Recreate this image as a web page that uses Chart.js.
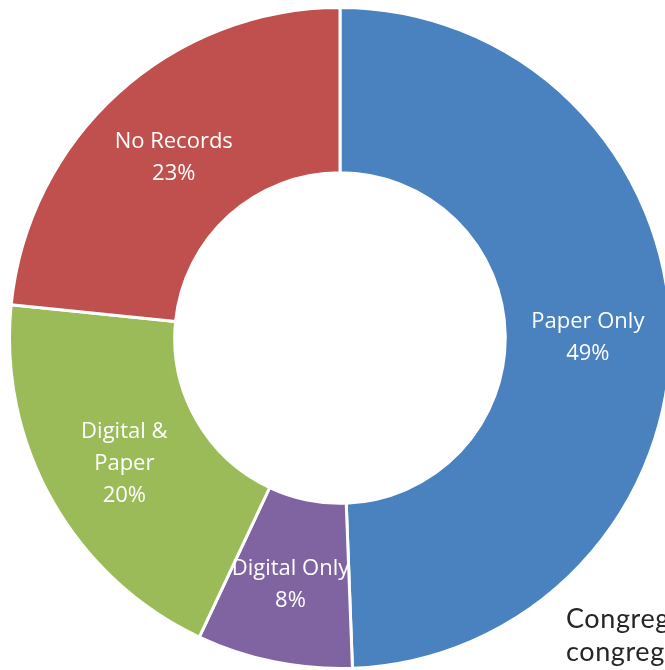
<!DOCTYPE html>
<html>
<head>
<meta charset="utf-8">
<script src="https://cdn.jsdelivr.net/npm/chart.js@4.4.1/dist/chart.umd.min.js"></script>
<style>
    html, body {
        margin: 0;
        padding: 0;
        width: 665px;
        height: 670px;
        overflow: hidden;
        background: #ffffff;
    }
    #wrap {
        position: absolute;
        left: 8px;
        top: 6px;
        width: 664px;
        height: 664px;
    }
    .side-text {
        position: absolute;
        left: 566px;
        font-family: Lato, "Open Sans", sans-serif;
        font-size: 27px;
        letter-spacing: 0.6px;
        color: #262626;
        white-space: nowrap;
        line-height: 34px;
    }
</style>
</head>
<body>
<div id="wrap"><canvas id="records-chart"></canvas></div>
<div class="side-text" style="top:601px">Congregations</div>
<div class="side-text" style="top:634px">congregations</div>

<script>
// Record keeping shares, clockwise from the top
const categories = ['Paper Only', 'Digital Only', 'Digital & Paper', 'No Records'];
const labelLines = [['Paper Only'], ['Digital Only'], ['Digital &', 'Paper'], ['No Records']];
const shares = [49.4, 7.6, 19.6, 23.4];
const sliceColors = ['#4a81bf', '#8064a2', '#9bbb59', '#c0504d'];

// Draws the name and percent in the middle of each ring slice
const sliceLabels = {
    id: 'sliceLabels',
    afterDatasetsDraw(chart) {
        const ctx = chart.ctx;
        const meta = chart.getDatasetMeta(0);
        const total = shares.reduce((a, b) => a + b, 0);
        ctx.save();
        ctx.fillStyle = '#ffffff';
        ctx.font = '22px "Open Sans", "Noto Sans", sans-serif';
        ctx.textAlign = 'center';
        ctx.textBaseline = 'middle';
        meta.data.forEach((arc, i) => {
            const pos = arc.tooltipPosition();
            const lines = labelLines[i].concat([Math.round(shares[i] / total * 100) + '%']);
            const lineH = 32;
            const top = pos.y + 4 - (lines.length - 1) * lineH / 2;
            lines.forEach((t, j) => ctx.fillText(t, pos.x, top + j * lineH));
        });
        ctx.restore();
    }
};

new Chart(document.getElementById('records-chart'), {
    type: 'doughnut',
    data: {
        labels: categories,
        datasets: [{
            data: shares,
            backgroundColor: sliceColors,
            borderColor: '#ffffff',
            borderWidth: 3,
            hoverOffset: 0
        }]
    },
    options: {
        responsive: true,
        maintainAspectRatio: false,
        animation: false,
        cutout: '50%',
        plugins: {
            legend: { display: false },
            tooltip: { enabled: false }
        }
    },
    plugins: [sliceLabels]
});
</script>
</body>
</html>
